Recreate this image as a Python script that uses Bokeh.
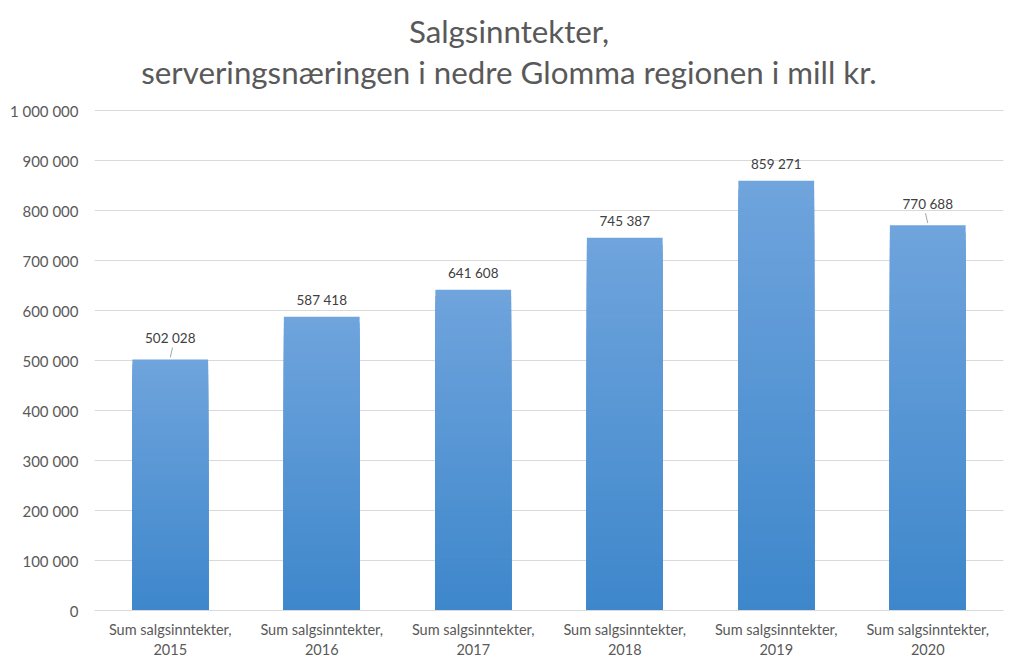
import numpy as np
from bokeh.plotting import figure
from bokeh.models import FixedTicker, Label, ColumnDataSource, Range1d
from bokeh.core.properties import value
from bokeh.embed import file_html
from bokeh.resources import INLINE

# ---- data ----
years = ["2015", "2016", "2017", "2018", "2019", "2020"]
category_labels = ["Sum salgsinntekter,\n" + y for y in years]
sales = [502028, 587418, 641608, 745387, 859271, 770688]
y_ticks = [0, 100000, 200000, 300000, 400000, 500000, 600000, 700000, 800000, 900000, 1000000]
title_lines = ["Salgsinntekter,", "serveringsnæringen i nedre Glomma regionen i mill kr."]

FONT = "Lato"
TXT = "#595959"

xs = list(range(len(years)))

AX_MAX = y_ticks[-1]
PX_PER_UNIT = 500 / AX_MAX          # 500 px for the value axis
TOP_PAD_PX = 110                     # room above the axis for the title
y_end = AX_MAX + TOP_PAD_PX / PX_PER_UNIT

p = figure(frame_width=909, frame_height=500 + TOP_PAD_PX, output_backend="svg",
           toolbar_location=None,
           x_range=Range1d(-0.5, len(years) - 0.5), y_range=Range1d(0, y_end),
           min_border_left=94, min_border_right=5, min_border_bottom=52, min_border_top=0)
p.outline_line_color = None
p.background_fill_color = "white"

# title lines, centred over the whole chart (slightly left of the plot centre)
title_x = (len(years) - 1) / 2 - 40 / 151.5
for txt, px_above in zip(title_lines, [579.5, 538.5]):
    p.add_layout(Label(x=title_x, y=px_above / PX_PER_UNIT, text=txt,
                       text_align="center", text_baseline="middle", text_font=FONT,
                       text_font_size="31.3px", text_color=TXT))

# gradient bars: nested bars, tallest (lightest) first, shorter (darker) on top
top_c = np.array([0x6f, 0xa4, 0xdd])
bot_c = np.array([0x3e, 0x87, 0xcb])
N = 50
bx, bt, bc = [], [], []
for i in range(N, 0, -1):
    f = (i - 0.5) / N
    c = bot_c + (top_c - bot_c) * f
    col = "#%02x%02x%02x" % tuple(int(round(k)) for k in c)
    for x, v in zip(xs, sales):
        bx.append(x)
        bt.append(v * i / N)
        bc.append(col)
src = ColumnDataSource(dict(x=bx, top=bt, color=bc))
p.vbar(x="x", bottom=0, top="top", width=0.5, fill_color="color", line_color=None, source=src)

# data labels
leader = [0, 5]
offsets = [-21 if i in leader else -17 for i in range(len(sales))]
lab = ColumnDataSource(dict(x=xs, y=sales,
                            t=[f"{v:,}".replace(",", " ") for v in sales],
                            off=offsets))
p.text(x="x", y="y", text="t", y_offset="off", source=lab, text_align="center",
       text_baseline="middle", text_font=value(FONT), text_font_size="13.5px",
       text_color="#404040")

# leader lines
lx0 = [xs[i] for i in leader]
ly0 = [sales[i] + 2 / PX_PER_UNIT for i in leader]
ly1 = [sales[i] + 12 / PX_PER_UNIT for i in leader]
lx1 = [xs[0] + 0.015, xs[5] - 0.015]
p.segment(x0=lx0, y0=ly0, x1=lx1, y1=ly1, line_color="#a6a6a6", line_width=1)

# axes
p.xaxis.ticker = FixedTicker(ticks=xs)
p.xaxis.major_label_overrides = {x: lbl for x, lbl in zip(xs, category_labels)}
p.xaxis.axis_line_color = "#d9d9d9"
p.xaxis.major_tick_line_color = None
p.xaxis.minor_tick_line_color = None
p.xaxis.major_label_text_font = FONT
p.xaxis.major_label_text_font_size = "14.5px"
p.xaxis.major_label_text_color = TXT
p.xaxis.major_label_standoff = 4

p.yaxis.ticker = FixedTicker(ticks=y_ticks)
p.yaxis.major_label_overrides = {t: f"{t:,}".replace(",", " ") for t in y_ticks}
p.yaxis.axis_line_color = None
p.yaxis.major_tick_line_color = None
p.yaxis.minor_tick_line_color = None
p.yaxis.major_label_text_font = FONT
p.yaxis.major_label_text_font_size = "15px"
p.yaxis.major_label_text_color = TXT
p.yaxis.major_label_standoff = 10

p.xgrid.grid_line_color = None
p.ygrid.ticker = FixedTicker(ticks=y_ticks)
p.ygrid.grid_line_color = "#d9d9d9"
p.ygrid.grid_line_width = 1

open("out.html", "w").write(file_html(p, INLINE))
